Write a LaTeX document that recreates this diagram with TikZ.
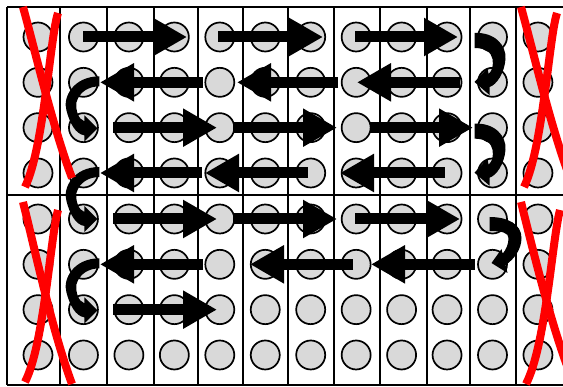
\documentclass[tikz,border=0pt]{standalone}
\usetikzlibrary{arrows.meta,calc}
\tikzset{
  cell/.style={circle, draw=black, line width=1.7pt, fill=black!15, minimum size=29pt, inner sep=0pt},
  gridline/.style={line width=1.6pt, black},
  bigarrow/.style={line width=11pt, -{Triangle[length=34pt,width=36pt]}},
  cross/.style={red, line width=8pt},
  turn/.style={fill=black},
}
\begin{document}
\begin{tikzpicture}[x=1pt,y=-1pt]
\useasboundingbox (0,0) rectangle (563,387);
\clip (0,0) rectangle (563,387);
\fill[white] (0,0) rectangle (563,387);
% grid
\draw[gridline] (7,7) -- (563,7);
\draw[gridline] (7,195) -- (563,195);
\draw[gridline] (7,385) -- (563,385);
\draw[gridline] (7,7) -- (7,385);
\foreach \gx in {60,107,154,198,243,288,334,380,427,470,516}
  \draw[gridline] (\gx,7) -- (\gx,385);
% circles
\foreach \r in {1,...,8} {
  \foreach \c in {1,...,12} {
    \pgfmathsetmacro{\cx}{38+45.45*(\c-1)}
    \pgfmathsetmacro{\cy}{\r<5 ? 37+45.33*(\r-1) : 219+45.33*(\r-5)}
    \node[cell] (c-\r-\c) at (\cx,\cy) {};
  }
}
% straight arrows
\draw[bigarrow] (83,0 |- c-1-1) -- (187,0 |- c-1-1);
\draw[bigarrow] (218,0 |- c-1-1) -- (323,0 |- c-1-1);
\draw[bigarrow] (355,0 |- c-1-1) -- (458,0 |- c-1-1);
\draw[bigarrow] (203,0 |- c-2-1) -- (100,0 |- c-2-1);
\draw[bigarrow] (338,0 |- c-2-1) -- (237,0 |- c-2-1);
\draw[bigarrow] (460,0 |- c-2-1) -- (357,0 |- c-2-1);
\draw[bigarrow] (113,0 |- c-3-1) -- (217,0 |- c-3-1);
\draw[bigarrow] (233,0 |- c-3-1) -- (337,0 |- c-3-1);
\draw[bigarrow] (370,0 |- c-3-1) -- (473,0 |- c-3-1);
\draw[bigarrow] (202,0 |- c-4-1) -- (100,0 |- c-4-1);
\draw[bigarrow] (308,0 |- c-4-1) -- (205,0 |- c-4-1);
\draw[bigarrow] (445,0 |- c-4-1) -- (340,0 |- c-4-1);
\draw[bigarrow] (113,0 |- c-5-1) -- (217,0 |- c-5-1);
\draw[bigarrow] (233,0 |- c-5-1) -- (337,0 |- c-5-1);
\draw[bigarrow] (355,0 |- c-5-1) -- (460,0 |- c-5-1);
\draw[bigarrow] (203,0 |- c-6-1) -- (100,0 |- c-6-1);
\draw[bigarrow] (353,0 |- c-6-1) -- (250,0 |- c-6-1);
\draw[bigarrow] (475,0 |- c-6-1) -- (371,0 |- c-6-1);
\draw[bigarrow] (113,0 |- c-7-1) -- (217,0 |- c-7-1);
% left U-turns
\foreach \n in {c-2-2,c-4-2,c-6-2} {
  \begin{scope}[shift={(\n.center)}]
    \fill[turn] (16,-6) .. controls (-10,-6) and (-21,15) .. (-17,28)
      .. controls (-14,40) and (-8,52) .. (1,53) -- (1,59) -- (14,46) -- (1,33) -- (1,39)
      .. controls (-5,37) and (-8,28) .. (-7,20) .. controls (-4,9) and (6,4) .. (16,4) -- cycle;
  \end{scope}
}
% right U-turns (top half)
\foreach \n in {c-1-11,c-3-11} {
  \begin{scope}[shift={(\n.center)}]
    \fill[turn] (-18,-4) .. controls (2,-5) and (14,8) .. (13,22)
      .. controls (12,36) and (4,48) .. (-3,50) -- (-3,58) -- (-18,45) -- (-5,31) -- (-4,37)
      .. controls (0,34) and (1,28) .. (0,22) .. controls (-1,15) and (-8,11) .. (-18,11) -- cycle;
  \end{scope}
}
% right U-turn (bottom half)
\begin{scope}[shift={(c-5-11.center)}]
  \fill[turn] (-3,-2) .. controls (15,-2) and (29,5) .. (29,19)
    .. controls (29,30) and (22,40) .. (13,46) -- (15,54) -- (-1,44) -- (9,30) -- (10,35)
    .. controls (14,30) and (16,25) .. (16,19) .. controls (16,14) and (10,12) .. (-3,12) -- cycle;
\end{scope}
% red crosses
\draw[cross] (23,7) .. controls (35,50) and (52,125) .. (72,178);
\draw[cross] (58,13) .. controls (50,37) and (44,148) .. (25,187);
\draw[cross] (23,202) .. controls (35,250) and (52,330) .. (72,384);
\draw[cross] (58,210) .. controls (50,240) and (44,345) .. (25,382);
\draw[cross] (521,7) .. controls (533,50) and (550,125) .. (570,178);
\draw[cross] (557,13) .. controls (549,37) and (543,148) .. (524,187);
\draw[cross] (521,202) .. controls (533,250) and (552,330) .. (574,384);
\draw[cross] (560,210) .. controls (552,240) and (546,345) .. (526,384);
\end{tikzpicture}
\end{document}
